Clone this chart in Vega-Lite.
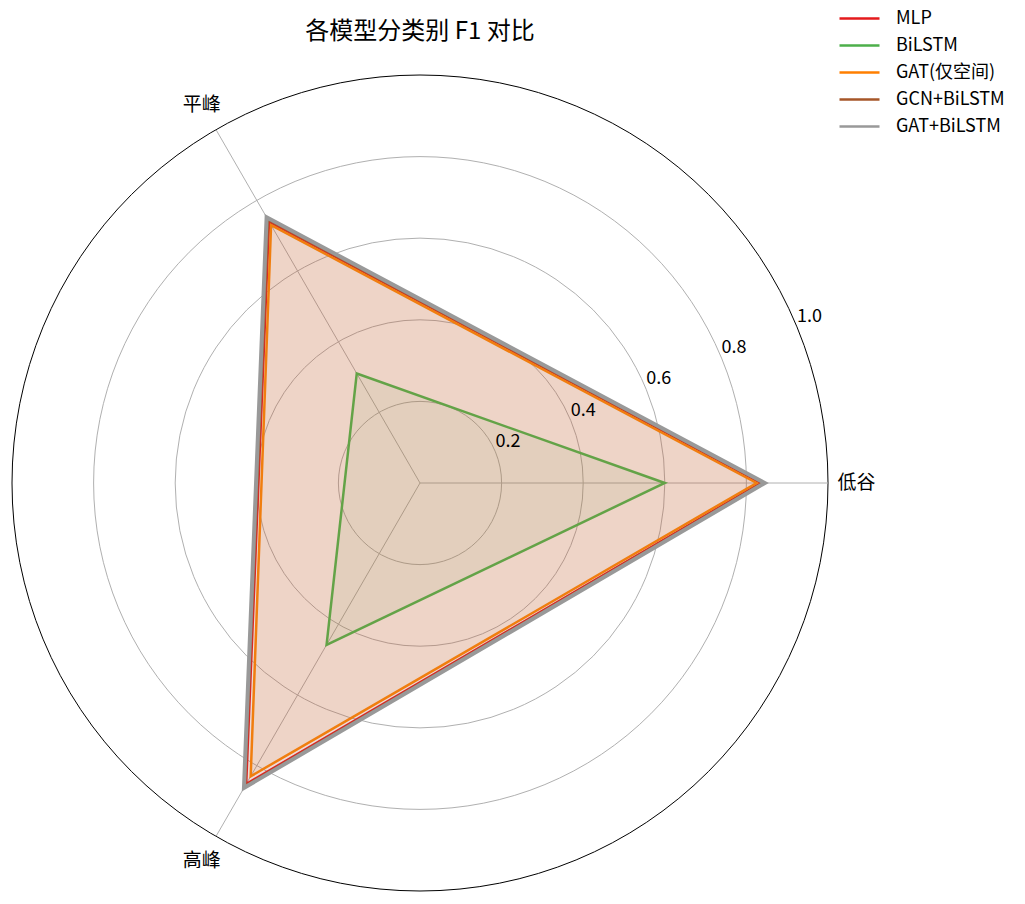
{
  "$schema": "https://vega.github.io/schema/vega-lite/v6.json",
  "description": "Radar chart of per-class F1 for each model.",
  "autosize": "none",
  "width": 816,
  "height": 816,
  "padding": {"left": 12, "top": 75, "right": 197, "bottom": 13},
  "title": {
    "text": "各模型分类别 F1 对比",
    "anchor": "middle",
    "offset": -39,
    "fontSize": 24,
    "fontWeight": "normal",
    "font": "Noto Sans CJK SC",
    "color": "#000000"
  },
  "config": {
    "view": {"stroke": null},
    "font": "Noto Sans CJK SC",
    "legend": {
      "title": null,
      "orient": "none",
      "legendX": 826,
      "legendY": -70,
      "symbolType": "stroke",
      "symbolSize": 1600,
      "symbolStrokeWidth": 2.5,
      "labelFontSize": 18,
      "labelFont": "Noto Sans CJK SC",
      "labelColor": "#000000",
      "labelOffset": 15,
      "rowPadding": 0,
      "clipHeight": 27,
      "padding": 0
    }
  },
  "datasets": {
    "cats": [
      {"category": "低谷", "i": 0},
      {"category": "平峰", "i": 1},
      {"category": "高峰", "i": 2}
    ],
    "rings": [
      {"r": 0.2, "label": "0.2"},
      {"r": 0.4, "label": "0.4"},
      {"r": 0.6, "label": "0.6"},
      {"r": 0.8, "label": "0.8"},
      {"r": 1.0, "label": "1.0"}
    ],
    "f1": [
      {"model": "MLP", "category": "低谷", "f1": 0.835},
      {"model": "MLP", "category": "平峰", "f1": 0.74},
      {"model": "MLP", "category": "高峰", "f1": 0.852},
      {"model": "BiLSTM", "category": "低谷", "f1": 0.6},
      {"model": "BiLSTM", "category": "平峰", "f1": 0.31},
      {"model": "BiLSTM", "category": "高峰", "f1": 0.458},
      {"model": "GAT(仅空间)", "category": "低谷", "f1": 0.825},
      {"model": "GAT(仅空间)", "category": "平峰", "f1": 0.73},
      {"model": "GAT(仅空间)", "category": "高峰", "f1": 0.83},
      {"model": "GCN+BiLSTM", "category": "低谷", "f1": 0.84},
      {"model": "GCN+BiLSTM", "category": "平峰", "f1": 0.745},
      {"model": "GCN+BiLSTM", "category": "高峰", "f1": 0.858},
      {"model": "GAT+BiLSTM", "category": "低谷", "f1": 0.845},
      {"model": "GAT+BiLSTM", "category": "平峰", "f1": 0.752},
      {"model": "GAT+BiLSTM", "category": "高峰", "f1": 0.863}
    ]
  },
  "layer": [
    {
      "data": {"name": "rings"},
      "transform": [{"calculate": "0", "as": "c"}],
      "mark": {"type": "point", "shape": "circle", "filled": false, "strokeWidth": 1, "opacity": 1},
      "encoding": {
        "x": {"field": "c", "type": "quantitative", "scale": {"domain": [-1, 1], "nice": false, "zero": false}, "axis": null},
        "y": {"field": "c", "type": "quantitative", "scale": {"domain": [-1, 1], "nice": false, "zero": false}, "axis": null},
        "size": {"field": "r", "type": "quantitative", "scale": {"type": "pow", "exponent": 2, "domain": [0, 1], "range": [0, 665856], "zero": true}, "legend": null},
        "stroke": {"condition": {"test": "datum.r >= 1", "value": "#000000"}, "value": "#b0b0b0"}
      }
    },
    {
      "data": {"name": "cats"},
      "transform": [
        {"calculate": "datum.i * 2 * PI / 3", "as": "ang"},
        {"calculate": "0", "as": "x0"},
        {"calculate": "cos(datum.ang)", "as": "x1"},
        {"calculate": "sin(datum.ang)", "as": "y1"}
      ],
      "mark": {"type": "rule", "color": "#b0b0b0", "strokeWidth": 1},
      "encoding": {
        "x": {"field": "x0", "type": "quantitative"},
        "y": {"field": "x0", "type": "quantitative"},
        "x2": {"field": "x1"},
        "y2": {"field": "y1"}
      }
    },
    {
      "data": {"name": "f1"},
      "transform": [
        {"calculate": "indexof(['低谷', '平峰', '高峰'], datum.category)", "as": "i"},
        {"calculate": "datum.i * 2 * PI / 3", "as": "ang"},
        {"calculate": "datum.f1 * cos(datum.ang)", "as": "px"},
        {"calculate": "datum.f1 * sin(datum.ang)", "as": "py"}
      ],
      "mark": {"type": "line", "interpolate": "linear-closed", "fillOpacity": 0.08},
      "encoding": {
        "x": {"field": "px", "type": "quantitative"},
        "y": {"field": "py", "type": "quantitative"},
        "order": {"field": "i", "type": "quantitative"},
        "detail": {"field": "model"},
        "stroke": {
          "field": "model",
          "type": "nominal",
          "sort": null,
          "scale": {
            "domain": ["MLP", "BiLSTM", "GAT(仅空间)", "GCN+BiLSTM", "GAT+BiLSTM"],
            "range": ["#e41a1c", "#4daf4a", "#ff7f00", "#a65628", "#999999"]
          }
        },
        "fill": {
          "field": "model",
          "type": "nominal",
          "sort": null,
          "scale": {
            "domain": ["MLP", "BiLSTM", "GAT(仅空间)", "GCN+BiLSTM", "GAT+BiLSTM"],
            "range": ["#e41a1c", "#4daf4a", "#ff7f00", "#a65628", "#999999"]
          }
        },
        "strokeWidth": {"condition": {"test": "datum.model === 'GAT+BiLSTM'", "value": 4}, "value": 2.5}
      }
    },
    {
      "data": {"name": "rings"},
      "transform": [
        {"calculate": "datum.r * cos(PI / 8)", "as": "tx"},
        {"calculate": "datum.r * sin(PI / 8)", "as": "ty"}
      ],
      "mark": {"type": "text", "align": "left", "baseline": "bottom", "dy": -1, "fontSize": 18, "color": "#000000"},
      "encoding": {
        "x": {"field": "tx", "type": "quantitative"},
        "y": {"field": "ty", "type": "quantitative"},
        "text": {"field": "label"}
      }
    },
    {
      "data": {"name": "cats"},
      "transform": [
        {"calculate": "datum.i * 2 * PI / 3", "as": "ang"},
        {"calculate": "1.07 * cos(datum.ang)", "as": "lx"},
        {"calculate": "1.07 * sin(datum.ang)", "as": "ly"}
      ],
      "mark": {"type": "text", "align": "center", "baseline": "middle", "fontSize": 19, "color": "#000000"},
      "encoding": {
        "x": {"field": "lx", "type": "quantitative"},
        "y": {"field": "ly", "type": "quantitative"},
        "text": {"field": "category"}
      }
    }
  ]
}
